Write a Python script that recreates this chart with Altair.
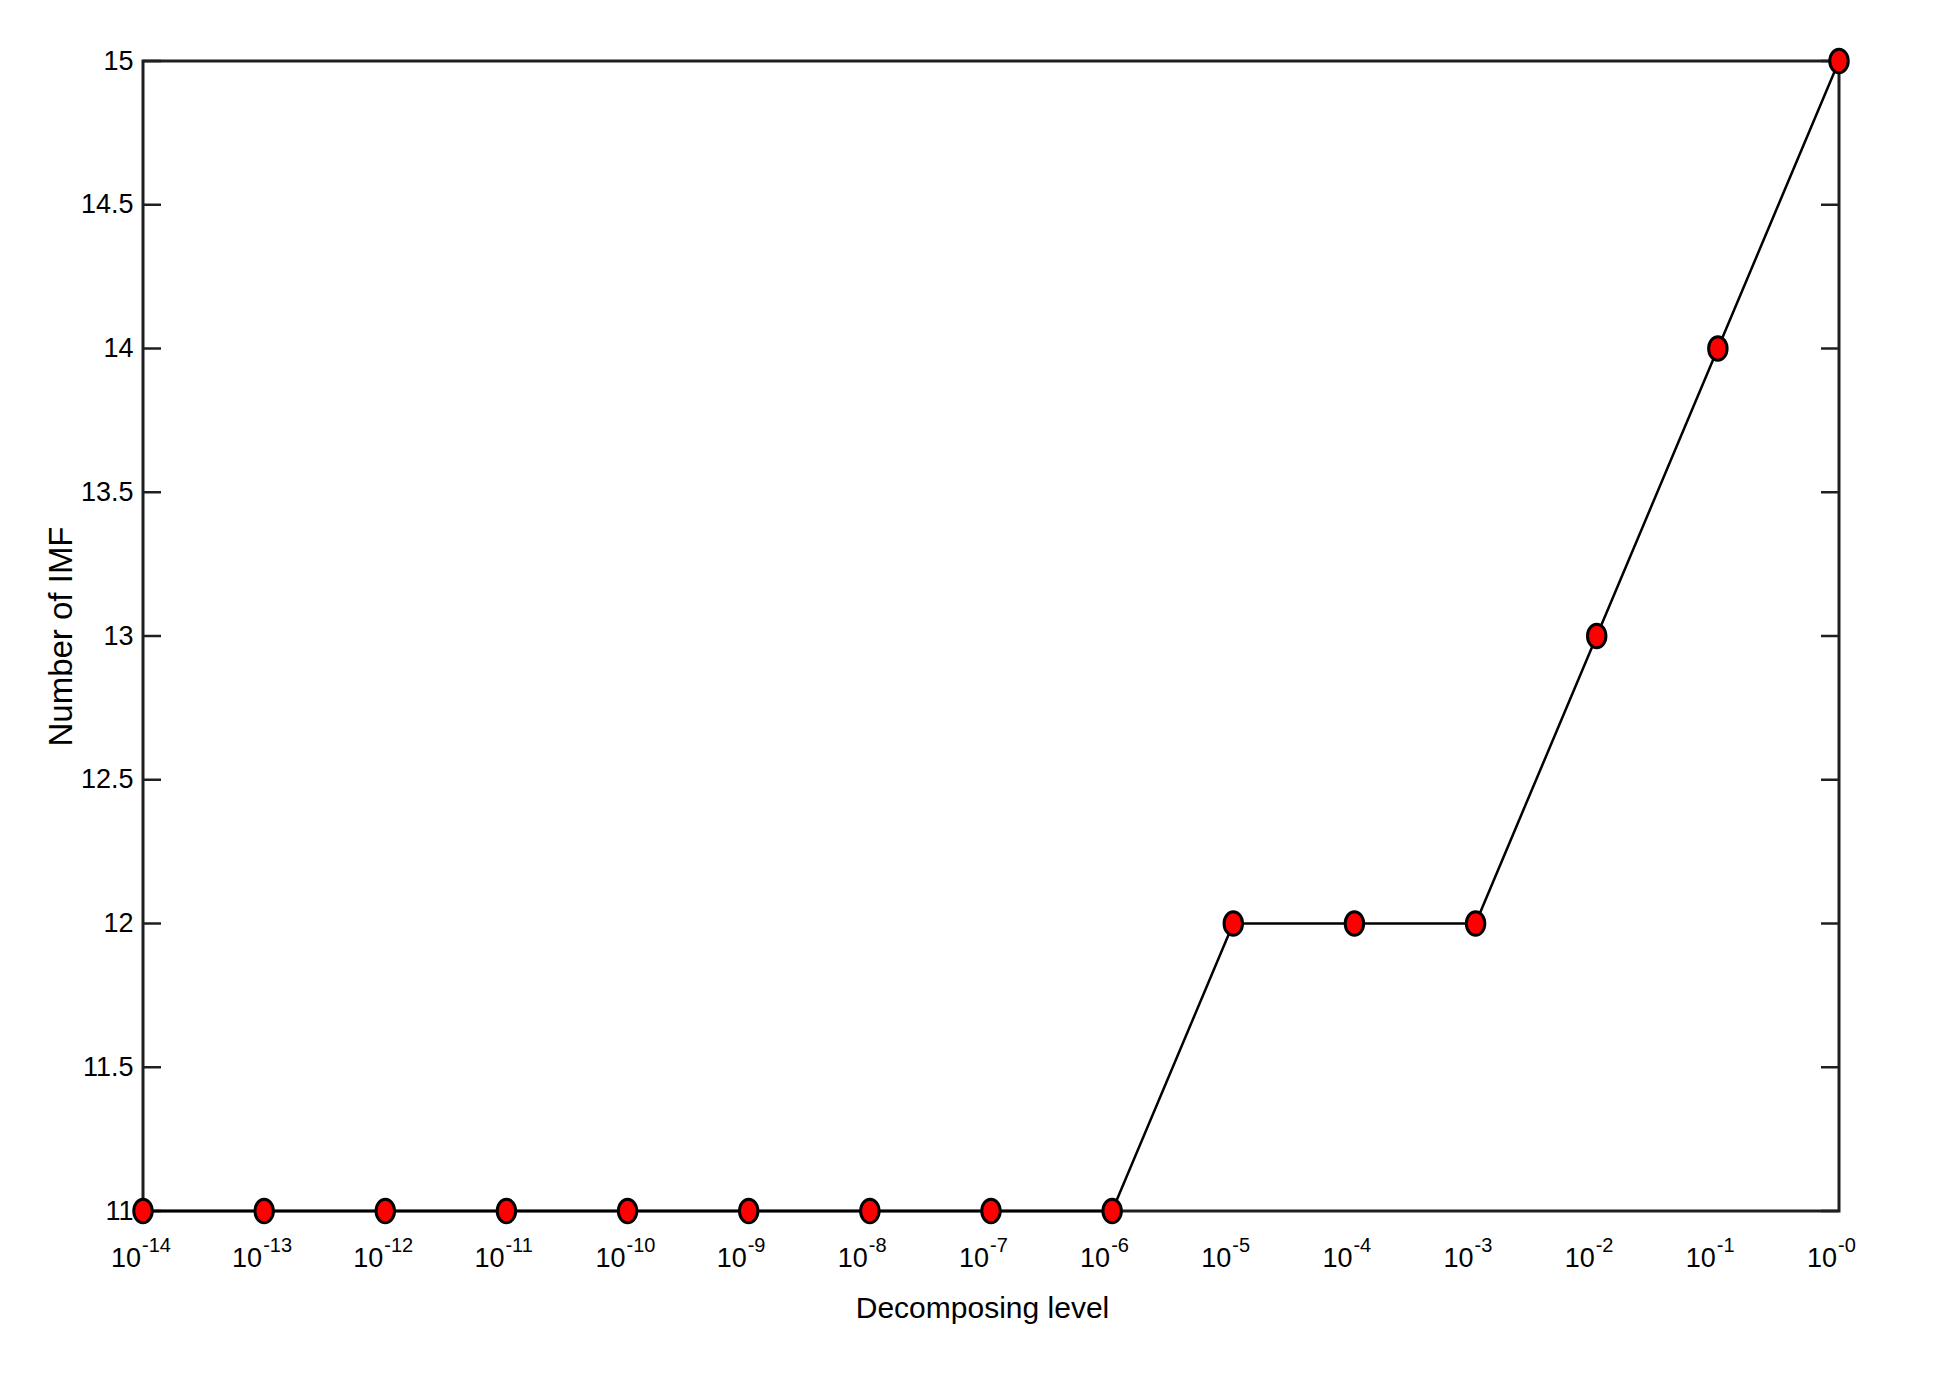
import altair as alt
import pandas as pd

# ---- data ----
exponents = [-14, -13, -12, -11, -10, -9, -8, -7, -6, -5, -4, -3, -2, -1, 0]
imf_counts = [11, 11, 11, 11, 11, 11, 11, 11, 11, 12, 12, 12, 13, 14, 15]
exp_labels = ["-14", "-13", "-12", "-11", "-10", "-9", "-8", "-7", "-6",
              "-5", "-4", "-3", "-2", "-1", "-0"]
base_label = "10"
y_ticks = [11, 11.5, 12, 12.5, 13, 13.5, 14, 14.5, 15]

df = pd.DataFrame({"exp": exponents, "imf": imf_counts, "sup": exp_labels})
tick_df = pd.DataFrame({"v": y_ticks})

W, H = 1696, 1150
NARROW = "Liberation Sans Narrow, Liberation Sans, Arial, sans-serif"
REG = "Liberation Sans, Arial, sans-serif"

x_scale = alt.Scale(domain=[-14, 0], nice=False, zero=False)
y_scale = alt.Scale(domain=[11, 15], nice=False, zero=False)

x_axis = alt.Axis(labels=False, ticks=False, domain=False, grid=False,
                  title="Decomposing level", titleFont=NARROW, titleFontSize=30,
                  titleFontWeight="normal", titleColor="black",
                  titleBaseline="alphabetic", titleAlign="center",
                  titleX=839, titleY=106)
y_axis = alt.Axis(values=y_ticks, format=".1~f", labelFont=NARROW, labelFontSize=27,
                  labelColor="black", labelPadding=10, ticks=False, tickSize=0,
                  domain=False, grid=False,
                  title="Number of IMF", titleFont=REG, titleFontSize=33,
                  titleFontWeight="normal", titleColor="black", titleAngle=270,
                  titleX=-82, titleY=575, titleAlign="center", titleBaseline="middle")

base = alt.Chart(df)

line = base.mark_line(color="black", strokeWidth=2.5).encode(
    x=alt.X("exp:Q", scale=x_scale, axis=x_axis),
    y=alt.Y("imf:Q", scale=y_scale, axis=y_axis),
)

ELLIPSE = "M -0.78 0 A 0.78 1 0 1 0 0.78 0 A 0.78 1 0 1 0 -0.78 0 Z"
points = base.mark_point(shape=ELLIPSE, size=560, filled=True, color="#ff0000",
                         stroke="black", strokeWidth=3, opacity=1).encode(
    x=alt.X("exp:Q", scale=x_scale),
    y=alt.Y("imf:Q", scale=y_scale),
)

left_ticks = alt.Chart(tick_df).mark_rule(color="#1f1f1f", strokeWidth=2.5).encode(
    y=alt.Y("v:Q", scale=y_scale), x=alt.value(0), x2=alt.value(18))
right_ticks = alt.Chart(tick_df).mark_rule(color="#1f1f1f", strokeWidth=2.5).encode(
    y=alt.Y("v:Q", scale=y_scale), x=alt.value(W - 18), x2=alt.value(W))

base_text = base.mark_text(text=base_label, align="right", baseline="alphabetic",
                           font=NARROW, fontSize=27, color="black", dx=-2).encode(
    x=alt.X("exp:Q", scale=x_scale), y=alt.value(H + 56))
sup_text = base.mark_text(align="left", baseline="alphabetic", font=NARROW,
                          fontSize=20, color="black", dx=-1).encode(
    x=alt.X("exp:Q", scale=x_scale), y=alt.value(H + 41), text="sup:N")

chart = alt.layer(left_ticks, right_ticks, line, points, base_text, sup_text).properties(
    width=W, height=H,
    autosize=alt.AutoSizeParams(type="none"),
    padding={"left": 135, "top": 53, "right": 80, "bottom": 150},
    background="white",
).configure_view(stroke="#1f1f1f", strokeWidth=3)

chart.save("out.html", embed_options={"renderer": "svg", "actions": False})
